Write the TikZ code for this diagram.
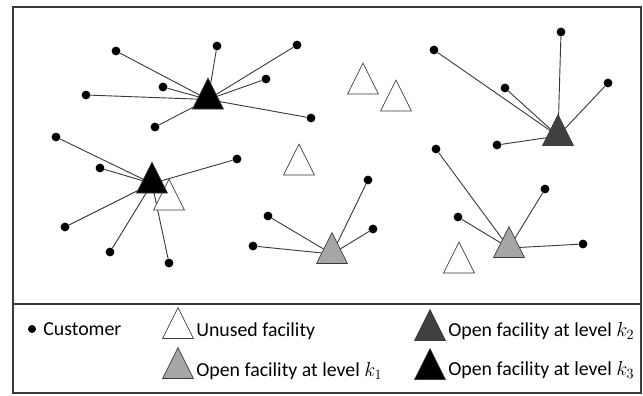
\documentclass[tikz,border=0pt]{standalone}
\usepackage{fontspec}
\setmainfont{Carlito}
\usepackage{tikz}
\usetikzlibrary{shapes.geometric,positioning}
\pgfdeclarelayer{background}
\pgfsetlayers{background,main}

\definecolor{linegray}{HTML}{3A3A3A}
\definecolor{lvlone}{HTML}{A6A6A6}
\definecolor{lvltwo}{HTML}{404040}

\begin{document}
\begin{tikzpicture}[x=0.025cm, y=-0.025cm,
	fac/.style={isosceles triangle, isosceles triangle stretches, shape border rotate=90,
		minimum width=0.775cm, minimum height=0.775cm, inner sep=0pt, outer sep=0pt,
		draw=linegray, line width=0.5pt},
	unused/.style={fac, fill=white},
	open1/.style={fac, fill=lvlone},
	open2/.style={fac, fill=lvltwo},
	open3/.style={fac, fill=black},
	cust/.style={circle, fill=black, inner sep=0pt, minimum size=0.22cm},
	link/.style={draw=linegray, line width=0.65pt},
	legtext/.style={anchor=west, inner sep=0pt, font=\fontsize{14.1}{17}\selectfont}]
		\useasboundingbox (0,0) rectangle (643,395);
		\draw[line width=1pt, draw=linegray] (13,7) rectangle (641,393);
		\draw[line width=1pt, draw=linegray] (13,304) -- (641,304);

		% unused facilities
		\node[unused] (u1) at (299,165.5) {};
		\node[unused] (u2) at (363,84.5) {};
		\node[unused] (u3) at (396,101.5) {};
		\node[unused] (u4) at (459,263.5) {};
		\node[unused] (u5) at (169,200.5) {};

		% open facilities
		\node[open3] (a) at (208,99.5) {};
		\node[open3] (b) at (152,183.5) {};
		\node[open2] (c) at (558,136) {};
		\node[open1] (d) at (332,254) {};
		\node[open1] (e) at (509,248) {};

		% customers
		\foreach \n/\x/\y in {a1/116/51, a2/217/46, a3/297/45, a4/266/79, a5/163/87, a6/86/95, a7/311/118, a8/155/127,
			b1/56/137, b2/100/168, b3/237/159, b4/65/227, b5/110/252, b6/169/263,
			d1/268/216, d2/253/246, d3/368/180, d4/373/229,
			c1/434/50, c2/505/88, c3/561/32, c4/608/83, c5/497/145,
			e1/436/149, e2/458/217, e3/545/189, e4/583/244}
			\node[cust] (\n) at (\x,\y) {};

		\begin{pgfonlayer}{background}
			\foreach \i in {1,...,8} \draw[link] (a\i) -- (a.center);
			\foreach \i in {1,...,6} \draw[link] (b\i) -- (b.center);
			\foreach \i in {1,...,5} \draw[link] (c\i) -- (c.center);
			\foreach \i in {1,...,4} \draw[link] (d\i) -- (d.center);
			\foreach \i in {1,...,4} \draw[link] (e\i) -- (e.center);
		\end{pgfonlayer}

		% legend
		\node[cust, minimum size=0.2cm] (lc) at (32,329) {};
		\node[legtext] (lct) at (43,329) {Customer};
		\node[unused] (lu) at (178,329) {};
		\node[legtext] (lut) at (196,331) {Unused facility};
		\node[open1] (l1) at (178,369) {};
		\node[legtext] (l1t) at (196,371) {Open facility at level $k_1$};
		\node[open2] (l2) at (430,331) {};
		\node[legtext] (l2t) at (448,331) {Open facility at level $k_2$};
		\node[open3] (l3) at (430,370) {};
		\node[legtext] (l3t) at (448,370) {Open facility at level $k_3$};
	\end{tikzpicture}
\end{document}
